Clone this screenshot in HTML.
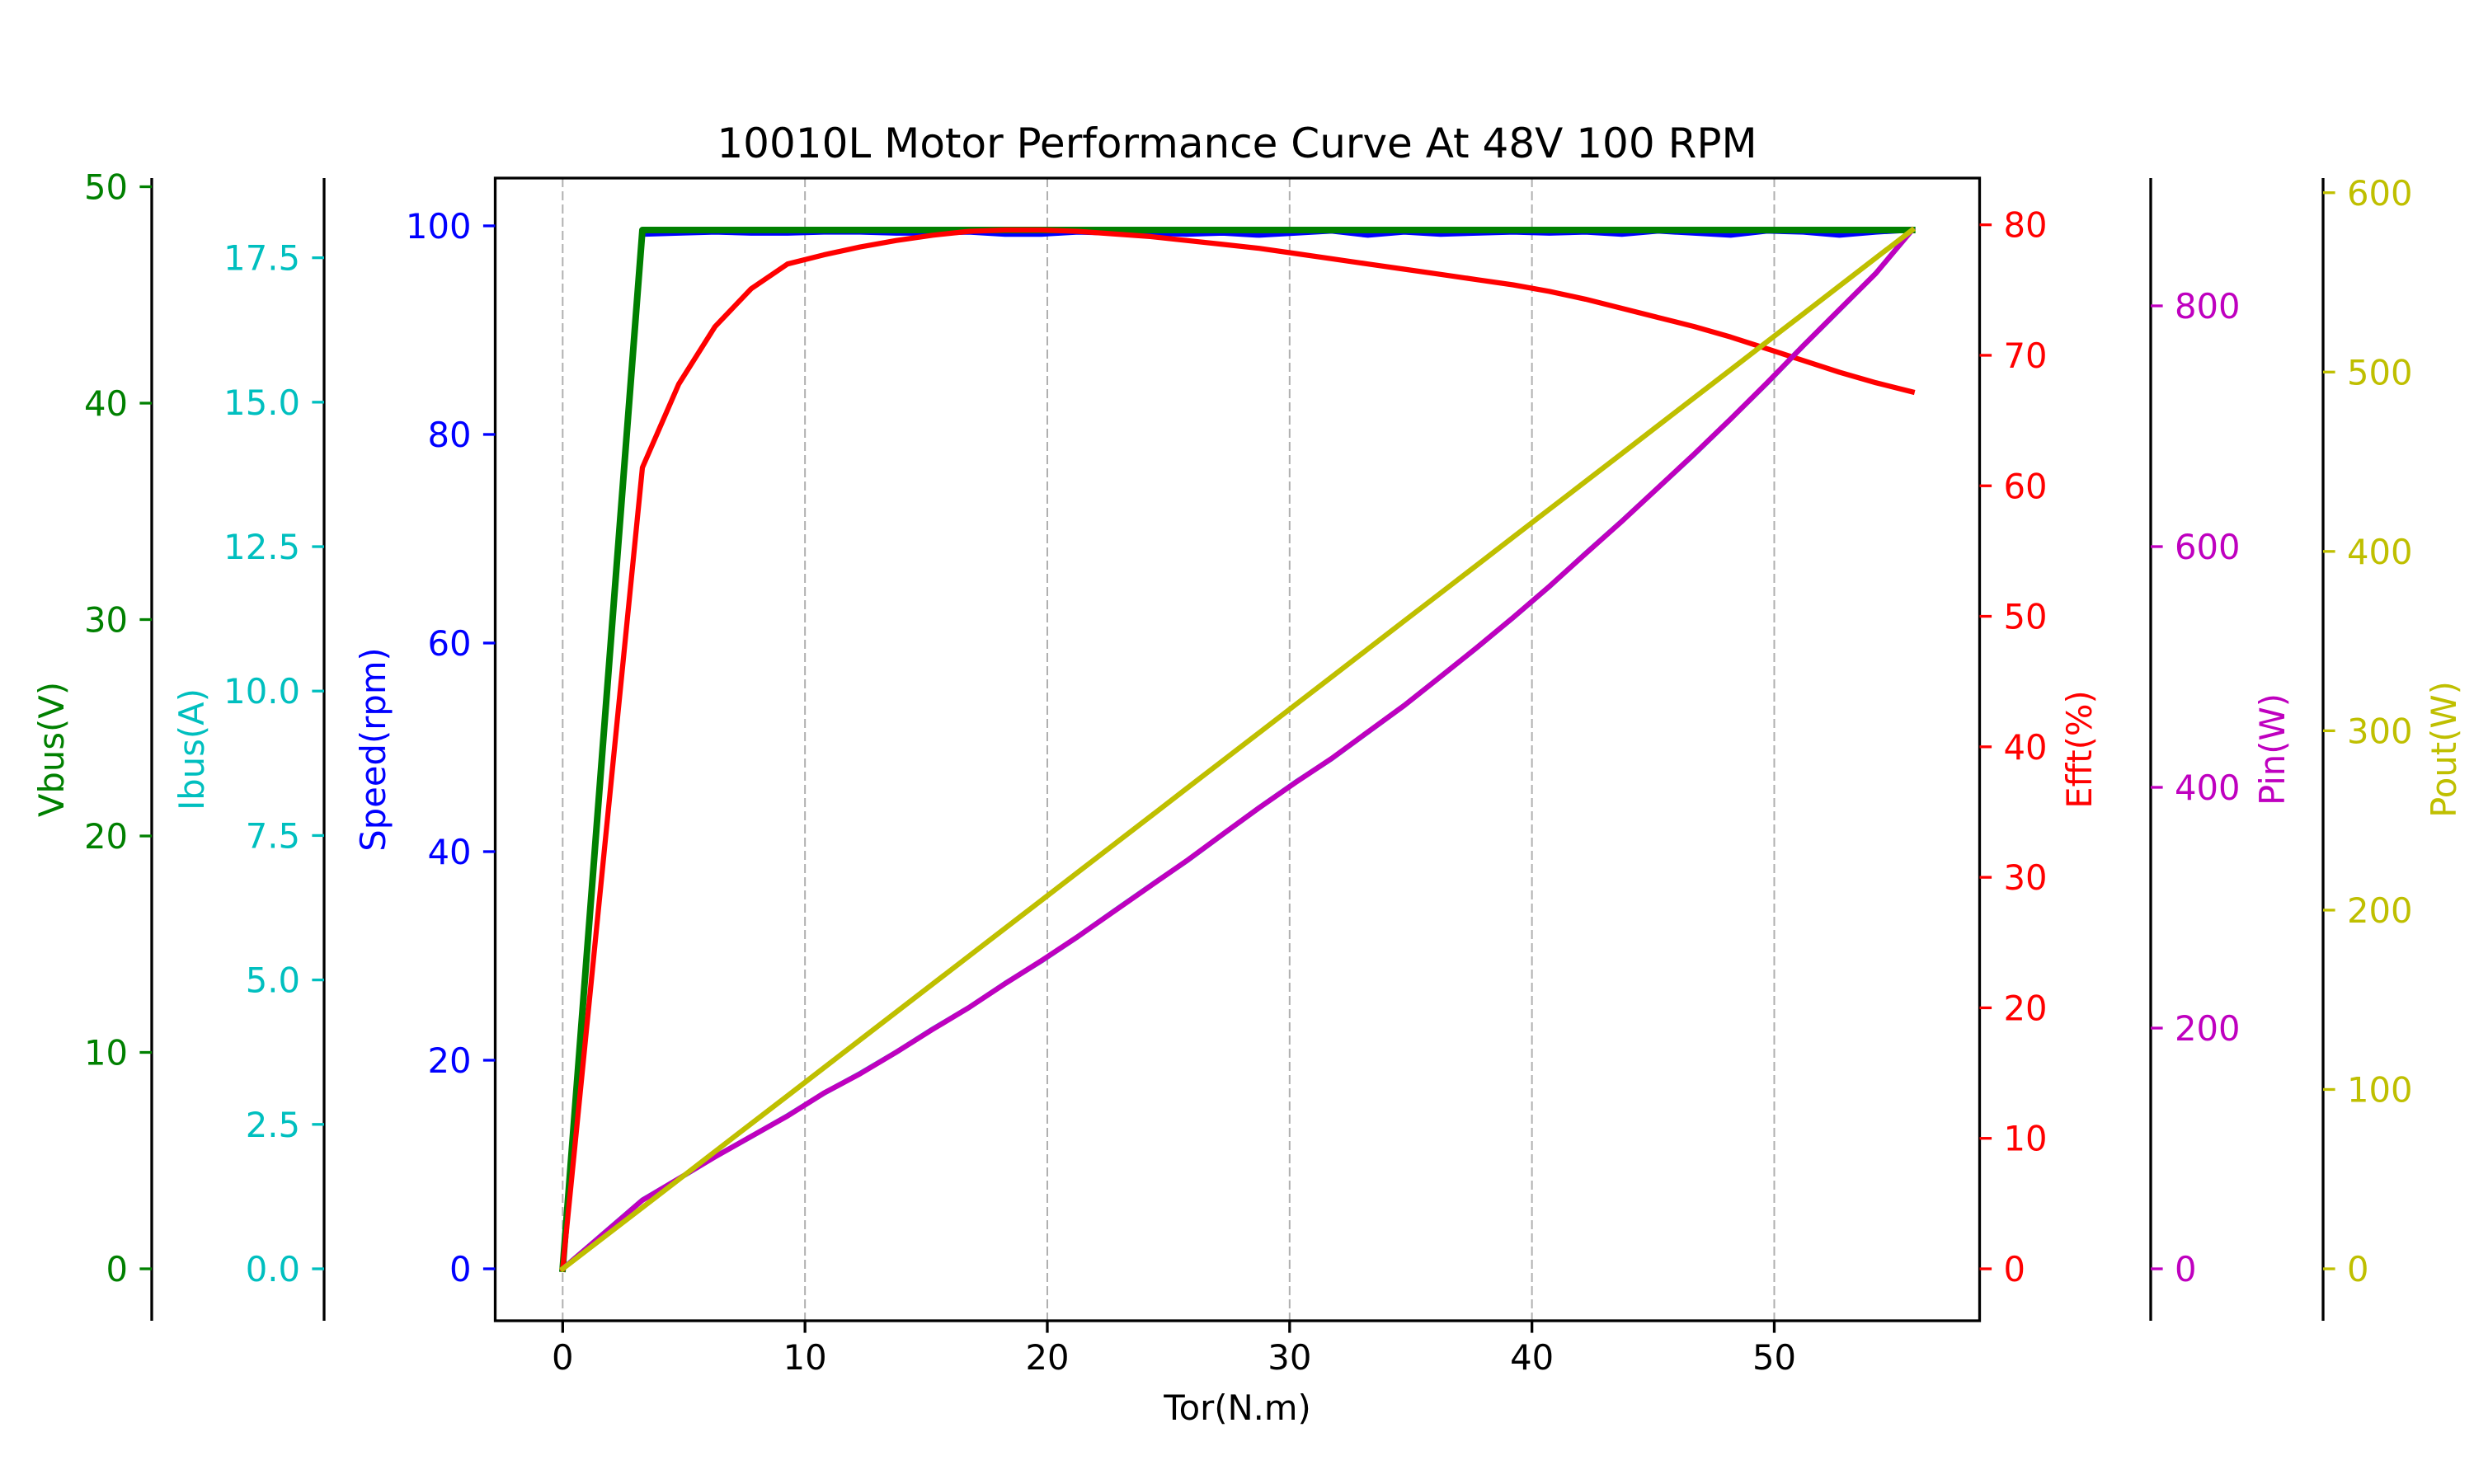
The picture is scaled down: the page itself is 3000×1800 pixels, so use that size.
<!DOCTYPE html>
<html><head><meta charset="utf-8"><title>10010L Motor Performance Curve</title>
<style>html,body{margin:0;padding:0;background:#fff;}svg{display:block;font-family:"DejaVu Sans","Liberation Sans",sans-serif;}</style>
</head><body>
<svg id="chart" width="3000" height="1800" viewBox="0 0 3000 1800" xmlns="http://www.w3.org/2000/svg"></svg>
<script>
const torque=[0,3.29,4.79,6.29,7.78,9.28,10.78,12.27,13.77,15.27,16.76,18.26,19.76,21.26,22.75,24.25,25.75,27.24,28.74,30.24,31.73,33.23,34.73,36.23,37.72,39.22,40.72,42.21,43.71,45.21,46.70,48.20,49.70,51.20,52.69,54.19,55.69];
const speed=[0,99.2,99.3,99.4,99.3,99.3,99.4,99.4,99.3,99.3,99.4,99.2,99.2,99.4,99.3,99.3,99.2,99.3,99.1,99.3,99.5,99.1,99.4,99.2,99.3,99.4,99.3,99.4,99.2,99.5,99.3,99.1,99.5,99.4,99.1,99.4,99.6];
const vbus=[0,48,48,48,48,48,48,48,48,48,48,48,48,48,48,48,48,48,48,48,48,48,48,48,48,48,48,48,48,48,48,48,48,48,48,48,48];
const ibus=[0,1.19,1.56,1.94,2.29,2.65,3.04,3.38,3.75,4.15,4.52,4.94,5.33,5.75,6.19,6.63,7.06,7.52,7.98,8.42,8.83,9.29,9.75,10.25,10.75,11.27,11.81,12.38,12.94,13.52,14.10,14.71,15.33,15.98,16.60,17.23,17.98];
const effic=[0,61.4,67.8,72.2,75.1,77.0,77.7,78.3,78.8,79.2,79.5,79.6,79.6,79.5,79.3,79.1,78.8,78.5,78.2,77.8,77.4,77.0,76.6,76.2,75.8,75.4,74.9,74.3,73.6,72.9,72.2,71.4,70.5,69.6,68.7,67.9,67.2];
const pin=[0,57,75,93,110,127,146,162,180,199,217,237,256,276,297,318,339,361,383,404,424,446,468,492,516,541,567,594,621,649,677,706,736,767,797,827,863];
const pout=[0,34.2,49.8,65.4,80.9,96.5,112.1,127.6,143.2,158.8,174.3,189.9,205.5,221.1,236.6,252.2,267.8,283.3,298.9,314.5,330.0,345.6,361.2,376.8,392.3,407.9,423.5,439.0,454.6,470.2,485.7,501.3,516.9,532.5,548.0,563.6,579.2];
const xTicks=[0,10,20,30,40,50];
const vbusTicks=["0","10","20","30","40","50"];
const ibusTicks=["0.0","2.5","5.0","7.5","10.0","12.5","15.0","17.5"];
const speedTicks=["0","20","40","60","80","100"];
const effTicks=["0","10","20","30","40","50","60","70","80"];
const pinTicks=["0","200","400","600","800"];
const poutTicks=["0","100","200","300","400","500","600"];

const NS="http://www.w3.org/2000/svg";
const svg=document.getElementById('chart');
const L=600.5,R=2400.5,T=216,B=1602;
function mk(tag,attrs,parent){const e=document.createElementNS(NS,tag);for(const k in attrs)e.setAttribute(k,attrs[k]);(parent||svg).appendChild(e);return e;}
function dom(arr){let mn=Math.min(...arr),mx=Math.max(...arr);const m=(mx-mn)*0.05;return [mn-m,mx+m];}
const xd=dom(torque);
function xs(v){return L+(v-xd[0])/(xd[1]-xd[0])*(R-L);}
function ysFor(arr){const d=dom(arr);return v=>B-(v-d[0])/(d[1]-d[0])*(B-T);}
const ySpeed=ysFor(speed),yVbus=ysFor(vbus),yIbus=ysFor(ibus),yEff=ysFor(effic),yPin=ysFor(pin),yPout=ysFor(pout);

xTicks.forEach(t=>{const g=mk('line',{x1:xs(t),x2:xs(t),y1:T,y2:B,stroke:'#b0b0b0','stroke-width':2,'stroke-dasharray':'11 5'});

});

function series(vals,yf,color,w,name){
  const pts=torque.map((t,i)=>xs(t).toFixed(1)+','+yf(vals[i]).toFixed(1)).join(' ');
  const p=mk('polyline',{points:pts,fill:'none',stroke:color,'stroke-width':w,'stroke-linejoin':'round','stroke-linecap':'square'});
  
  
}
series(speed,ySpeed,'#0000ff',6.25,'speed-line');
series(vbus,yVbus,'#008000',8,'vbus-line');
series(ibus,yIbus,'#00bfbf',6.25,'ibus-line');
series(effic,yEff,'#ff0000',6.25,'efficiency-line');
series(pin,yPin,'#bf00bf',6.25,'pin-line');
series(pout,yPout,'#bfbf00',6.25,'pout-line');

const fr=mk('rect',{x:L,y:T,width:R-L,height:B-T,fill:'none',stroke:'#000','stroke-width':3.3});



xTicks.forEach(t=>{const x=xs(t);mk('line',{x1:x,x2:x,y1:B,y2:B+14.6,stroke:'#000','stroke-width':3.3});
const tx=mk('text',{x:x,y:1661,'text-anchor':'middle','font-size':41.7,fill:'#000'});tx.textContent=String(t);

});
const xl=mk('text',{x:(L+R)/2,y:1722,'text-anchor':'middle','font-size':41.7,fill:'#000'});xl.textContent='Tor(N.m)';



const tt=mk('text',{x:1500,y:191,'text-anchor':'middle','font-size':50,fill:'#000'});tt.textContent='10010L Motor Performance Curve At 48V 100 RPM';



function yaxis(sx,side,ticks,yf,color,label,lx,name,spine){
  if(spine){const s=mk('line',{x1:sx,x2:sx,y1:T,y2:B,stroke:'#000','stroke-width':3.3});
  
  }
  ticks.forEach(t=>{const y=yf(parseFloat(t));const d=side<0?-14.6:14.6;
    mk('line',{x1:sx,x2:sx+d,y1:y,y2:y,stroke:color,'stroke-width':3.3});
    const tx=mk('text',{x:sx+(side<0?-29:29),y:y+15,'text-anchor':side<0?'end':'start','font-size':41.7,fill:color});tx.textContent=t;
    
    });
  const lb=mk('text',{x:lx,y:909,'text-anchor':'middle','font-size':41.7,fill:color,transform:'rotate(-90 '+lx+' 909)'});lb.textContent=label;
  
  
}
yaxis(184,-1,vbusTicks,yVbus,'#008000','Vbus(V)',77,'vbus',true);
yaxis(393,-1,ibusTicks,yIbus,'#00bfbf','Ibus(A)',247,'ibus',true);
yaxis(L,-1,speedTicks,ySpeed,'#0000ff','Speed(rpm)',467,'speed',false);
yaxis(R,1,effTicks,yEff,'#ff0000','Efft(%)',2536,'efficiency',false);
yaxis(2608,1,pinTicks,yPin,'#bf00bf','Pin(W)',2770,'pin',true);
yaxis(2817,1,poutTicks,yPout,'#bfbf00','Pout(W)',2978,'pout',true);
</script>
</body></html>
